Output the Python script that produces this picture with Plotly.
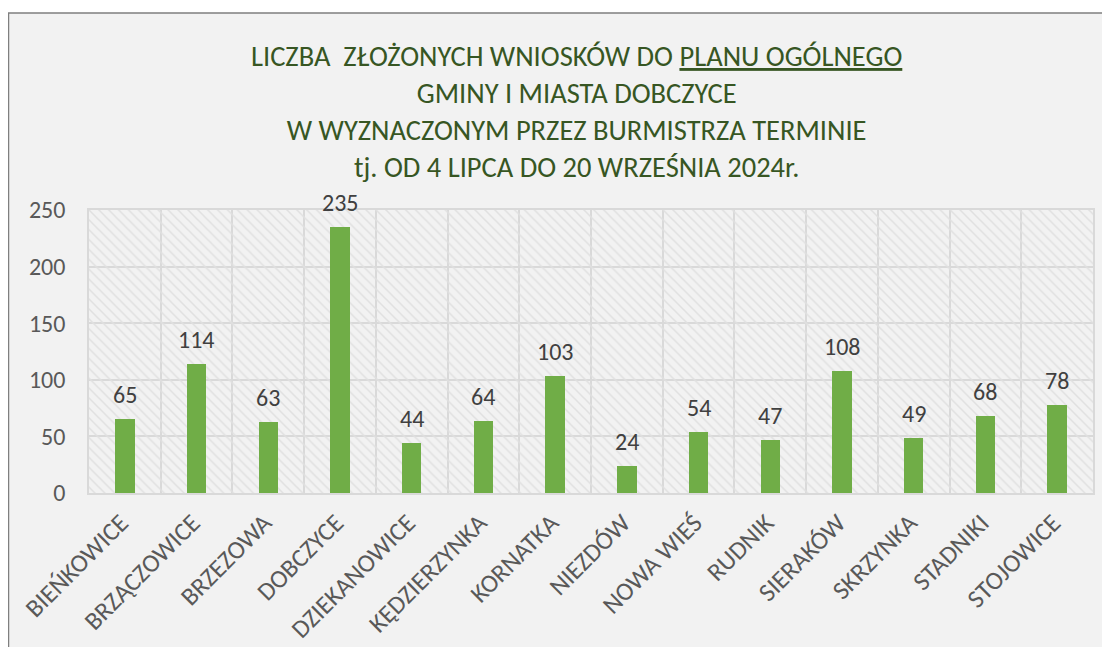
import plotly.graph_objects as go

categories = ["BIEŃKOWICE", "BRZĄCZOWICE", "BRZEZOWA", "DOBCZYCE", "DZIEKANOWICE",
              "KĘDZIERZYNKA", "KORNATKA", "NIEZDÓW", "NOWA WIEŚ", "RUDNIK",
              "SIERAKÓW", "SKRZYNKA", "STADNIKI", "STOJOWICE"]
values = [65, 114, 63, 235, 44, 64, 103, 24, 54, 47, 108, 49, 68, 78]
y_ticks = [0, 50, 100, 150, 200, 250]
y_max = 250

title_lines = [
    "LICZBA  ZŁOŻONYCH WNIOSKÓW DO <u>PLANU OGÓLNEGO</u>",
    "GMINY I MIASTA DOBCZYCE",
    "W WYZNACZONYM PRZEZ BURMISTRZA TERMINIE",
    "tj. OD 4 LIPCA DO 20 WRZEŚNIA 2024r.",
]

FONT = "Calibri, Carlito, Open Sans, sans-serif"
OFF = 8  # page body margin
W, H = 1110 - OFF, 647 - OFF
ML, MR, MT, MB = 89 - OFF, 17, 210 - OFF, 154
PW, PH = W - ML - MR, H - MT - MB

def px_x(p):
    return (p - OFF - ML) / PW

def px_y(p):
    return (H - MB - (p - OFF)) / PH

xs = list(range(len(categories)))

fig = go.Figure()
# hatched plot-area background
fig.add_trace(go.Bar(
    x=xs, y=[y_max] * len(xs), width=1,
    marker=dict(color="#E0E0E0", line=dict(width=0),
                pattern=dict(shape="\\", size=7, solidity=0.22, fillmode="replace")),
    hoverinfo="skip", showlegend=False,
))
fig.add_trace(go.Bar(
    x=xs, y=values, width=0.27,
    marker=dict(color="#70AD47", line=dict(width=0)),
    showlegend=False,
))

for x, v in zip(xs, values):
    fig.add_annotation(x=x, y=v, text=str(v), showarrow=False, yanchor="bottom",
                       yshift=8, font=dict(family=FONT, size=24, color="#404040"))

fig.add_annotation(
    xref="paper", yref="paper", x=px_x(576), y=px_y(112),
    xanchor="center", yanchor="middle", showarrow=False,
    text="<br>".join(title_lines), align="center",
    font=dict(family=FONT, size=28.5, color="#375623"),
)

fig.add_shape(type="rect", xref="paper", yref="paper", layer="below",
              x0=px_x(8.5), x1=px_x(1130), y0=px_y(670), y1=px_y(13),
              fillcolor="#F2F2F2", line=dict(color="#7F7F7F", width=1.5))

fig.update_layout(
    width=W, height=H,
    margin=dict(l=ML, r=MR, t=MT, b=MB, autoexpand=False),
    paper_bgcolor="#FFFFFF", plot_bgcolor="#FFFFFF",
    barmode="overlay", bargap=0,
    font=dict(family=FONT, color="#595959"),
    xaxis=dict(
        range=[-0.5, len(xs) - 0.5], tickmode="array", tickvals=xs, ticktext=categories,
        tickangle=-45, tickfont=dict(size=25.5, color="#595959"), showgrid=False,
        ticks="", zeroline=False, ticklabelshift=-4, ticklabelstandoff=3,
        automargin=False,
        showline=True, mirror=True, linecolor="#D9D9D9", linewidth=1.5,
        minor=dict(tick0=-0.5, dtick=1, showgrid=True, gridcolor="#D9D9D9", gridwidth=1.5),
    ),
    yaxis=dict(
        range=[0, y_max], tickmode="array", tickvals=y_ticks, automargin=False,
        tickfont=dict(size=24, color="#595959"), showgrid=True, gridcolor="#D9D9D9",
        gridwidth=1.5, zeroline=False, ticks="", ticklabelstandoff=17,
        showline=True, mirror=True, linecolor="#D9D9D9", linewidth=1.5,
    ),
)

fig.write_html("out.html")
